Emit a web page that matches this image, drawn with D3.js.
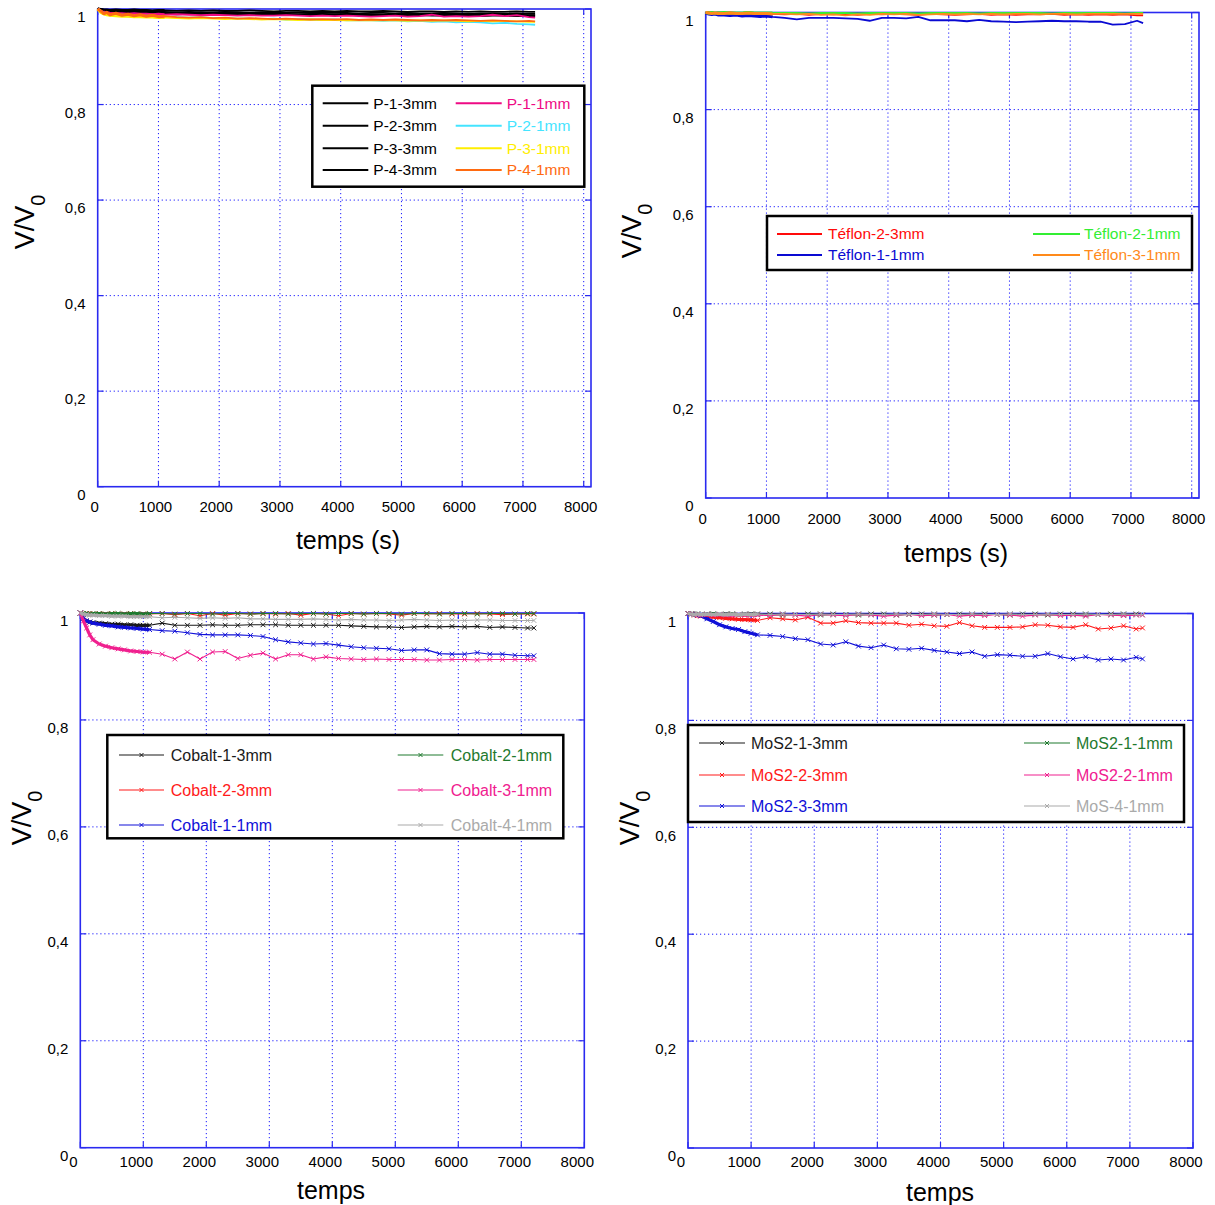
<!DOCTYPE html>
<html><head><meta charset="utf-8">
<script src="https://cdn.jsdelivr.net/npm/d3@7"></script>
<style>body{margin:0;background:#fff} svg text{font-family:"Liberation Sans",Arial,sans-serif}</style>
</head><body><svg id="c" width="1215" height="1205"></svg>
<script>
// ---------------- DATA ----------------
const times = [0,50,100,150,200,300,400,500,600,700,800,900,1000,1100,
  1300,1500,1700,1900,2100,2300,2500,2700,2900,3100,3300,3500,3700,3900,4100,4300,4500,4700,4900,5100,5300,5500,5700,5900,6100,6300,6500,6700,6900,7100,7200];
const xTicks = [0,1000,2000,3000,4000,5000,6000,7000,8000];
const yTicks = [0,0.2,0.4,0.6,0.8,1];
const yTickLabels = ["0","0,2","0,4","0,6","0,8","1"];

// Panel 1 : P series
const pNames  = ["P-1-3mm","P-2-3mm","P-3-3mm","P-4-3mm","P-1-1mm","P-2-1mm","P-3-1mm","P-4-1mm"];
const pColors = ["#000000","#000000","#000000","#000000","#ee0a84","#44e4ff","#ffee00","#ff6a10"];
const p13 = [1.000,0.999,0.998,0.998,0.997,0.998,0.997,0.997,0.998,0.997,0.997,0.996,0.997,0.997,
  0.996,0.997,0.996,0.997,0.996,0.996,0.997,0.996,0.995,0.996,0.996,0.995,0.996,0.995,0.996,0.995,0.995,0.996,0.995,0.994,0.995,0.995,0.994,0.995,0.994,0.995,0.994,0.994,0.995,0.994,0.994];
const p23 = [1.000,0.998,0.997,0.996,0.996,0.995,0.996,0.995,0.995,0.994,0.995,0.994,0.994,0.994,
  0.993,0.994,0.993,0.993,0.994,0.993,0.992,0.993,0.993,0.992,0.993,0.992,0.992,0.993,0.992,0.991,0.992,0.992,0.991,0.992,0.991,0.991,0.992,0.991,0.990,0.991,0.991,0.990,0.991,0.990,0.990];
const p33 = [1.000,0.997,0.995,0.994,0.994,0.993,0.993,0.994,0.993,0.992,0.993,0.992,0.992,0.992,
  0.991,0.992,0.991,0.990,0.991,0.991,0.990,0.991,0.990,0.990,0.989,0.990,0.990,0.989,0.990,0.989,0.989,0.988,0.989,0.989,0.988,0.989,0.988,0.988,0.989,0.988,0.987,0.988,0.988,0.987,0.987];
const p43 = [1.000,0.996,0.994,0.993,0.992,0.992,0.991,0.991,0.992,0.990,0.991,0.990,0.990,0.990,
  0.989,0.990,0.989,0.989,0.988,0.989,0.988,0.988,0.989,0.988,0.987,0.988,0.987,0.988,0.987,0.987,0.986,0.987,0.987,0.986,0.987,0.986,0.986,0.987,0.986,0.985,0.986,0.986,0.985,0.985,0.985];
const p11 = [1.000,0.995,0.993,0.992,0.991,0.990,0.990,0.989,0.990,0.989,0.989,0.988,0.989,0.988,
  0.989,0.988,0.987,0.988,0.987,0.986,0.987,0.986,0.986,0.987,0.986,0.985,0.986,0.985,0.986,0.985,0.984,0.985,0.986,0.984,0.985,0.988,0.984,0.985,0.984,0.985,0.988,0.985,0.987,0.983,0.982];
const p21 = [1.000,0.994,0.991,0.989,0.988,0.987,0.987,0.986,0.986,0.985,0.985,0.985,0.984,0.984,
  0.983,0.982,0.983,0.981,0.981,0.980,0.980,0.979,0.980,0.978,0.979,0.978,0.977,0.978,0.976,0.977,0.976,0.975,0.976,0.974,0.975,0.973,0.974,0.972,0.973,0.972,0.970,0.971,0.969,0.968,0.967];
const p31 = [1.000,0.993,0.990,0.988,0.987,0.986,0.985,0.985,0.984,0.984,0.983,0.983,0.982,0.982,
  0.981,0.980,0.981,0.980,0.979,0.980,0.979,0.978,0.979,0.978,0.977,0.978,0.977,0.977,0.976,0.977,0.976,0.977,0.976,0.975,0.976,0.975,0.976,0.975,0.974,0.975,0.974,0.975,0.974,0.973,0.973];
const p41 = [1.000,0.996,0.990,0.993,0.988,0.991,0.987,0.989,0.986,0.988,0.985,0.987,0.984,0.985,
  0.983,0.982,0.983,0.981,0.982,0.980,0.981,0.980,0.979,0.980,0.979,0.978,0.979,0.978,0.979,0.977,0.978,0.977,0.978,0.977,0.976,0.977,0.976,0.977,0.976,0.975,0.976,0.975,0.974,0.975,0.974];

// Panel 2 : Téflon series
const tNames  = ["Téflon-2-3mm","Téflon-1-1mm","Téflon-2-1mm","Téflon-3-1mm"];
const tColors = ["#ff0a0a","#0a0ad2","#33ee33","#ff8a1a"];
const t23 = [1.000,0.999,0.999,0.998,0.999,0.998,0.999,0.998,0.998,0.999,0.998,0.998,0.997,0.997,
  0.996,0.997,0.995,0.997,0.996,0.997,0.995,0.997,0.996,0.997,0.996,0.995,0.997,0.996,0.995,0.996,0.997,0.995,0.996,0.995,0.996,0.996,0.997,0.995,0.996,0.995,0.996,0.995,0.996,0.994,0.994];
const t11 = [0.999,0.997,0.996,0.997,0.995,0.995,0.994,0.995,0.993,0.994,0.993,0.992,0.993,0.991,
  0.989,0.986,0.989,0.989,0.989,0.988,0.987,0.983,0.989,0.989,0.988,0.991,0.984,0.984,0.984,0.982,0.985,0.982,0.981,0.980,0.981,0.982,0.983,0.982,0.982,0.981,0.981,0.975,0.976,0.983,0.978];
const t21 = [1.000,0.999,1.000,0.999,0.999,1.000,0.999,0.999,0.999,1.000,0.999,0.999,0.999,0.999,
  0.999,0.999,0.998,0.999,0.999,0.999,0.998,0.999,0.999,0.999,0.999,0.998,0.999,0.999,0.999,0.999,0.998,0.999,0.999,0.999,0.999,0.999,0.998,0.999,0.999,0.999,0.999,0.999,0.998,0.999,0.999];
const t31 = [1.000,0.999,0.998,0.999,0.998,0.998,0.999,0.998,0.998,0.999,0.998,0.998,0.998,0.997,
  0.997,0.996,0.997,0.995,0.996,0.994,0.996,0.995,0.997,0.996,0.997,0.995,0.996,0.997,0.996,0.997,0.996,0.997,0.996,0.997,0.997,0.996,0.997,0.997,0.996,0.997,0.997,0.997,0.997,0.997,0.997];

// Panel 3 : Cobalt series
const cNames  = ["Cobalt-1-3mm","Cobalt-2-3mm","Cobalt-1-1mm","Cobalt-2-1mm","Cobalt-3-1mm","Cobalt-4-1mm"];
const cColors = ["#1a1a1a","#ff1a1a","#1010d8","#1f7a2e","#f0208f","#aaaaaa"];
const c13 = [1.000,0.990,0.985,0.983,0.982,0.981,0.980,0.979,0.979,0.978,0.978,0.977,0.977,0.977,
  0.981,0.977,0.977,0.977,0.978,0.977,0.977,0.978,0.978,0.978,0.977,0.977,0.977,0.977,0.977,0.976,0.975,0.974,0.974,0.973,0.974,0.975,0.974,0.975,0.974,0.975,0.973,0.974,0.973,0.972,0.972];
const c23 = [1.000,0.999,0.998,0.999,0.998,0.999,0.998,0.999,0.998,0.998,0.999,0.998,0.998,0.998,
  0.999,0.997,0.999,0.995,0.999,0.996,0.999,0.998,0.999,0.998,0.999,0.996,0.999,0.998,0.995,0.999,0.998,0.999,0.998,0.996,0.999,0.998,0.999,0.998,0.998,0.999,0.998,0.997,0.998,0.998,0.998];
const c11 = [1.000,0.990,0.985,0.983,0.981,0.979,0.977,0.976,0.974,0.973,0.972,0.971,0.970,0.969,
  0.967,0.966,0.963,0.960,0.959,0.959,0.959,0.958,0.956,0.950,0.946,0.944,0.942,0.943,0.940,0.937,0.935,0.934,0.933,0.930,0.931,0.931,0.924,0.923,0.923,0.926,0.923,0.923,0.921,0.920,0.920];
const c21 = [1.000,0.999,0.999,0.998,0.999,0.999,0.998,0.999,0.999,0.998,0.999,0.999,0.998,0.999,
  0.999,0.998,0.999,0.999,0.998,0.999,0.999,0.998,0.999,0.999,0.998,0.999,0.999,0.998,0.999,0.999,0.998,0.999,0.999,0.998,0.999,0.999,0.998,0.999,0.999,0.998,0.999,0.999,0.998,0.999,0.999];
const c31 = [1.000,0.985,0.972,0.959,0.950,0.942,0.938,0.935,0.933,0.931,0.929,0.928,0.927,0.9265,
  0.923,0.914,0.927,0.914,0.927,0.928,0.915,0.921,0.925,0.914,0.922,0.922,0.914,0.918,0.915,0.914,0.913,0.914,0.913,0.913,0.913,0.912,0.912,0.913,0.913,0.912,0.913,0.913,0.913,0.913,0.913];
const c41 = [1.000,0.998,0.997,0.996,0.996,0.995,0.995,0.994,0.994,0.994,0.993,0.993,0.993,0.993,
  0.991,0.992,0.991,0.990,0.991,0.990,0.991,0.989,0.989,0.988,0.988,0.988,0.989,0.988,0.987,0.988,0.987,0.987,0.986,0.987,0.988,0.987,0.986,0.987,0.986,0.987,0.987,0.986,0.986,0.986,0.986];

// Panel 4 : MoS2 series
const mNames  = ["MoS2-1-3mm","MoS2-2-3mm","MoS2-3-3mm","MoS2-1-1mm","MoS2-2-1mm","MoS-4-1mm"];
const mColors = ["#1a1a1a","#ff1a1a","#1010d8","#1f7a2e","#f0208f","#aaaaaa"];
const m13 = [1.000,0.999,0.999,0.999,0.998,0.999,0.999,0.998,0.999,0.999,0.998,0.999,0.999,0.999,
  0.999,0.999,0.998,0.999,0.999,0.999,0.998,0.999,0.999,0.999,0.998,0.999,0.999,0.999,0.998,0.999,0.999,0.999,0.998,0.999,0.999,0.999,0.998,0.999,0.999,0.999,0.998,0.999,0.999,0.999,0.998];
const m23 = [1.000,0.999,0.997,0.996,0.995,0.994,0.993,0.992,0.991,0.990,0.989,0.9885,0.988,0.987,
  0.992,0.990,0.988,0.993,0.982,0.982,0.9865,0.983,0.982,0.982,0.982,0.978,0.980,0.977,0.976,0.983,0.977,0.974,0.974,0.974,0.975,0.979,0.978,0.975,0.974,0.979,0.971,0.973,0.977,0.971,0.973];
const m33 = [1.000,0.999,0.998,0.997,0.996,0.990,0.985,0.979,0.975,0.972,0.970,0.966,0.963,0.960,
  0.959,0.957,0.953,0.951,0.943,0.941,0.947,0.939,0.936,0.941,0.934,0.933,0.935,0.931,0.928,0.925,0.928,0.920,0.923,0.922,0.920,0.920,0.925,0.919,0.915,0.919,0.913,0.915,0.913,0.918,0.915];
const m11 = [1.000,0.999,0.998,0.999,0.998,0.998,0.999,0.998,0.998,0.999,0.998,0.998,0.998,0.998,
  0.998,0.997,0.998,0.998,0.997,0.998,0.998,0.997,0.998,0.998,0.997,0.998,0.998,0.997,0.998,0.998,0.997,0.998,0.998,0.997,0.998,0.998,0.997,0.998,0.998,0.997,0.998,0.998,0.997,0.998,0.998];
const m21 = [1.000,0.999,0.998,0.998,0.997,0.998,0.997,0.998,0.997,0.997,0.998,0.997,0.997,0.997,
  0.996,0.998,0.997,0.995,0.998,0.997,0.996,0.998,0.997,0.995,0.997,0.998,0.996,0.997,0.998,0.995,0.997,0.996,0.998,0.997,0.995,0.997,0.998,0.996,0.997,0.995,0.998,0.997,0.996,0.997,0.997];
const m41 = [1.000,0.999,0.998,0.999,0.998,0.999,0.998,0.999,0.998,0.999,0.998,0.999,0.998,0.999,
  0.998,0.999,0.998,0.998,0.999,0.998,0.998,0.999,0.998,0.998,0.999,0.998,0.998,0.999,0.998,0.998,0.999,0.998,0.998,0.999,0.998,0.998,0.999,0.998,0.998,0.999,0.998,0.998,0.999,0.998,0.998];

// ---------------- LAYOUT ----------------
const panels = [
  {l:97.7,r:591,t:9,b:486.7,xMax:8120,xTitle:"temps (s)",xt:[348,540],yt:[25,222],
   xlOff:-3,xlDy:20,series:[p13,p23,p33,p43,p11,p21,p31,p41],names:pNames,colors:pColors,markers:false,
   leg:{x:312.3,y:85.7,w:272,h:101,rows:[103.3,125.7,148.3,170],cols:[[322.7,368.3,373.3],[455.7,501.7,506.7]],fs:15.5}},
  {l:705.7,r:1199,t:12.5,b:498,xMax:8120,xTitle:"temps (s)",xt:[956,553],yt:[632,231],
   xlOff:-3,xlDy:21,series:[t23,t11,t21,t31],names:tNames,colors:tColors,markers:false,
   leg:{x:767,y:216,w:425,h:54,rows:[234,255],cols:[[777,822,828],[1033,1080,1084]],fs:15.5}},
  {l:80.3,r:584.3,t:613,b:1147.7,xMax:8000,xTitle:"temps",xt:[331,1190],yt:[22,818],
   xlOff:-7,xlDy:14,series:[c13,c23,c11,c21,c31,c41],names:cNames,colors:cColors,markers:true,
   leg:{x:107.3,y:735,w:456,h:103.3,rows:[755,790,825],cols:[[119,164,170.7],[397.7,443.3,450.7]],fs:16}},
  {l:688,r:1193,t:613.5,b:1148,xMax:8000,xTitle:"temps",xt:[940,1192],yt:[630,818],
   xlOff:-7,xlDy:14,series:[m13,m23,m33,m11,m21,m41],names:mNames,colors:mColors,markers:true,
   leg:{x:688,y:725,w:496,h:97,rows:[743,775,806],cols:[[699,745,751],[1024,1070,1076]],fs:16}}
];

const svg = d3.select("#c");
const frameColor = "#2a2af0";
const gridColor = "#1a1aff";
const xMark = "M-2.4,-2.4L2.4,2.4M-2.4,2.4L2.4,-2.4";

panels.forEach(P => {
  const g = svg.append("g");
  const x = d3.scaleLinear().domain([0, P.xMax]).range([P.l, P.r]);
  const y = d3.scaleLinear().domain([0, 1]).range([P.b, P.t]);

  // grid
  g.selectAll(".vg").data(xTicks.filter(d => d > 0 && x(d) < P.r - 2)).join("line")
    .attr("x1", d => x(d)).attr("x2", d => x(d)).attr("y1", P.t).attr("y2", P.b)
    .attr("stroke", gridColor).attr("stroke-width", 1).attr("stroke-dasharray", "1.2,2.8");
  g.selectAll(".hg").data(yTicks.filter(d => d > 0 && d < 1)).join("line")
    .attr("x1", P.l).attr("x2", P.r).attr("y1", d => y(d)).attr("y2", d => y(d))
    .attr("stroke", gridColor).attr("stroke-width", 1).attr("stroke-dasharray", "1.2,2.8");

  // ticks (inward, all four sides)
  const tl = 6;
  xTicks.forEach(d => {
    if (x(d) > P.r + 0.5) return;
    g.append("line").attr("x1", x(d)).attr("x2", x(d)).attr("y1", P.b).attr("y2", P.b - tl).attr("stroke", frameColor).attr("stroke-width", 1.2);
    g.append("line").attr("x1", x(d)).attr("x2", x(d)).attr("y1", P.t).attr("y2", P.t + tl).attr("stroke", frameColor).attr("stroke-width", 1.2);
  });
  yTicks.forEach(d => {
    g.append("line").attr("x1", P.l).attr("x2", P.l + tl).attr("y1", y(d)).attr("y2", y(d)).attr("stroke", frameColor).attr("stroke-width", 1.2);
    g.append("line").attr("x1", P.r).attr("x2", P.r - tl).attr("y1", y(d)).attr("y2", y(d)).attr("stroke", frameColor).attr("stroke-width", 1.2);
  });

  // frame
  g.append("rect").attr("x", P.l).attr("y", P.t).attr("width", P.r - P.l).attr("height", P.b - P.t)
    .attr("fill", "none").attr("stroke", frameColor).attr("stroke-width", 1.6);

  // tick labels
  g.selectAll(".xl").data(xTicks).join("text")
    .attr("x", d => x(d) + P.xlOff).attr("y", P.b + P.xlDy).attr("dy", "0.35em")
    .attr("text-anchor", "middle").attr("font-size", 15).text(d => String(d));
  g.selectAll(".yl").data(yTicks).join("text")
    .attr("x", P.l - 12).attr("y", d => y(d) + 8).attr("dy", "0.35em")
    .attr("text-anchor", "end").attr("font-size", 15).text((d, i) => yTickLabels[i]);

  // axis titles
  g.append("text").attr("x", P.xt[0]).attr("y", P.xt[1]).attr("dy", "0.35em")
    .attr("text-anchor", "middle").attr("font-size", 25).text(P.xTitle);
  const yt = g.append("text").attr("transform", `translate(${P.yt[0]},${P.yt[1]}) rotate(-90)`)
    .attr("text-anchor", "middle").attr("dy", "0.35em").attr("font-size", 27);
  yt.append("tspan").text("V/V");
  yt.append("tspan").attr("baseline-shift", "sub").attr("font-size", 20).text("0");

  // series
  const line = d3.line().x(d => x(d[0])).y(d => y(d[1]));
  P.series.forEach((vals, si) => {
    const col = P.colors[si];
    const pts = times.map((t, i) => [t, vals[i]]).filter(d => d[1] !== undefined);
    const dense = pts.filter(d => d[0] <= 1100);
    g.append("path").datum(dense).attr("d", line).attr("fill", "none").attr("stroke", col)
      .attr("stroke-width", P.markers ? 3.2 : 3).attr("stroke-linejoin", "round");
    g.append("path").datum(pts).attr("d", line).attr("fill", "none").attr("stroke", col)
      .attr("stroke-width", P.markers ? 1.1 : 1.8).attr("stroke-linejoin", "round");
    if (P.markers) {
      g.selectAll(null).data(pts).join("path")
        .attr("transform", d => `translate(${x(d[0])},${y(d[1])})`)
        .attr("d", xMark).attr("fill", "none").attr("stroke", col).attr("stroke-width", 1);
    }
  });

  // legend
  const L = P.leg;
  const lg = svg.append("g");
  lg.append("rect").attr("x", L.x).attr("y", L.y).attr("width", L.w).attr("height", L.h)
    .attr("fill", "#fff").attr("stroke", "#000").attr("stroke-width", 2.5);
  const nr = L.rows.length;
  P.names.forEach((nm, i) => {
    const c = L.cols[Math.floor(i / nr)], ry = L.rows[i % nr];
    const col = P.colors[i];
    lg.append("line").attr("x1", c[0]).attr("x2", c[1]).attr("y1", ry).attr("y2", ry)
      .attr("stroke", col).attr("stroke-width", P.markers ? 1.2 : 2);
    if (P.markers) {
      lg.append("path").attr("transform", `translate(${(c[0] + c[1]) / 2},${ry})`)
        .attr("d", "M-2,-2L2,2M-2,2L2,-2").attr("stroke", col).attr("stroke-width", 1);
    }
    lg.append("text").attr("x", c[2]).attr("y", ry).attr("dy", "0.35em")
      .attr("font-size", L.fs).attr("fill", col).text(nm);
  });
});
</script>
</body></html>
